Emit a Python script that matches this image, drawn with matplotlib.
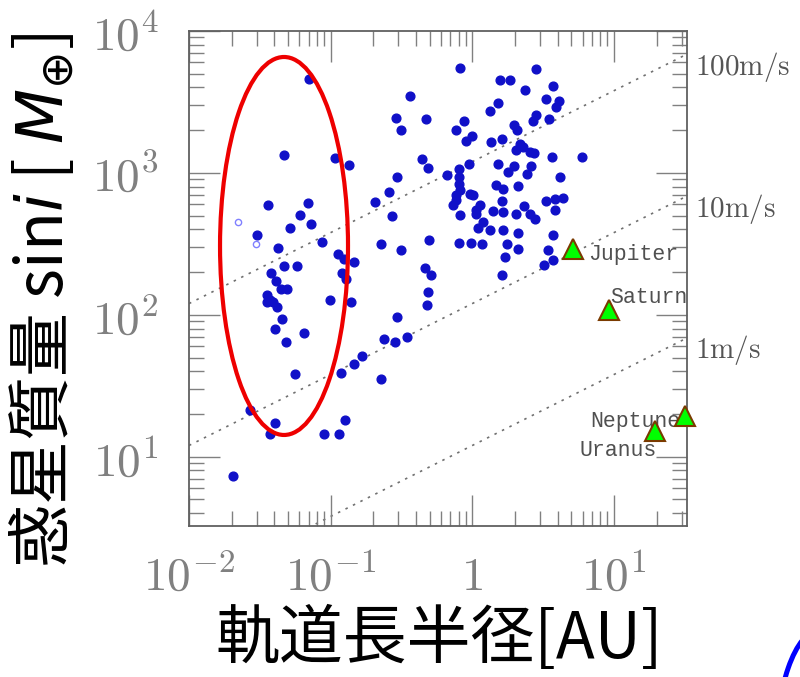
import numpy as np
import matplotlib
matplotlib.use("Agg")
import matplotlib.pyplot as plt
from matplotlib.patches import Ellipse
from matplotlib.ticker import NullFormatter

plt.rcParams['font.family'] = ['Noto Sans CJK JP', 'DejaVu Sans']
plt.rcParams['mathtext.fontset'] = 'cm'

# semi-major axis [AU] and M sin i [Earth masses] of known exoplanets
semi_axis = [0.070, 0.361, 0.288, 0.474, 0.316, 0.0466, 0.107, 0.135, 0.438, 0.488,
             0.295, 0.257, 0.207, 0.273, 0.0363, 0.0691, 0.0604, 0.0731, 0.0513, 0.0301,
             0.0863, 0.0422, 0.2265, 0.316, 0.496, 0.113, 0.124, 0.146, 0.0466, 0.0578,
             0.461, 0.0381, 0.0413, 0.0449, 0.0491, 0.120, 0.129, 0.0355, 0.0375, 0.0355,
             0.0391, 0.0417, 0.0984, 0.140, 0.515, 0.488, 0.480, 0.0453, 0.0402, 0.0647,
             0.0481, 0.294, 0.237, 0.283, 0.348, 0.1675, 0.146, 0.118, 0.0557, 0.225,
             0.0271, 0.0406, 0.0375, 0.126, 0.0892, 0.114, 0.0206,
             0.825, 2.84, 1.565, 1.84, 3.72, 2.35, 3.31, 4.10, 3.89, 1.52,
             1.33, 0.875, 2.84, 2.69, 3.49, 0.773, 1.97, 2.07, 1.00, 0.91,
             1.35, 1.63, 2.17, 2.29, 2.05, 2.55, 2.73, 3.63, 5.91, 0.948,
             1.52, 0.807, 1.97, 2.59, 1.79, 0.807, 0.658, 2.44, 4.15, 0.807,
             1.48, 1.65, 2.09, 0.825, 0.96, 0.773, 1.01, 0.764, 1.63, 3.31,
             3.83, 4.34, 0.731, 1.13, 2.31, 1.06, 1.39, 1.65, 2.05, 2.55,
             3.83, 0.816, 1.07, 2.77, 1.19, 1.10, 1.33, 1.65, 2.11, 0.807,
             0.987, 1.18, 1.76, 3.69, 2.09, 1.70, 3.43, 3.72, 3.20, 1.61]
mass = [4620, 3480, 2455, 2390, 2020, 1333, 1282, 1132, 1256, 1084,
        929, 735, 620, 498, 593, 609, 509, 440, 412, 368,
        327, 296, 315, 286, 336, 269, 249, 234, 220, 220,
        214, 198, 173, 153, 152, 196, 180, 139, 128, 124,
        124, 114, 127, 124, 190, 145, 118, 93, 79, 74,
        64, 95.9, 67.5, 64, 70, 51.4, 44.8, 39.1, 38.2, 35.1,
        21.3, 17.2, 14.4, 18.1, 14.4, 14.4, 7.3,
        5520, 5370, 4480, 4480, 4080, 3820, 3300, 3210, 2920, 3130,
        2735, 2310, 2550, 2310, 2390, 2020, 2170, 2020, 1810, 1670,
        1650, 1720, 1610, 1525, 1445, 1407, 1371, 1297, 1297, 1151,
        1164, 1074, 1114, 1114, 1016, 938, 964, 979, 938, 841,
        818, 776, 809, 755, 716, 697, 697, 643, 635, 635,
        653, 671, 593, 593, 583, 546, 537, 531, 512, 512,
        546, 504, 512, 477, 452, 406, 395, 395, 378, 321,
        321, 318, 318, 364, 290, 256, 286, 245, 224, 190]

# two odd objects drawn open
odd_axis = [0.0221, 0.0299]
odd_mass = [452, 318]

# solar system planets
planet_names = ['Jupiter', 'Saturn', 'Uranus', 'Neptune']
planet_axis = [5.1, 9.3, 19.5, 31.8]
planet_mass = [290, 108, 15.1, 19.4]
planet_text_offset = [(11, -3.6), (0.5, 9.4), (-54.5, -13.5), (-68.4, -4.2)]

# radial velocity amplitude lines
rv_amps = [100, 10, 1]
rv_labels = ['100m/s', '10m/s', '1m/s']
rv_mass_at_1au = 12.0   # M sin i for K = 1 m/s at 1 AU

xmin, xmax = 0.01, 32.8
ymin, ymax = 3.25, 1.0e4

fig = plt.figure(figsize=(8, 6.77), dpi=100)
ax = fig.add_axes([0.23625, 0.22304, 0.6225, 0.73117])
ax.set_xscale('log')
ax.set_yscale('log')
ax.set_xlim(xmin, xmax)
ax.set_ylim(ymin, ymax)

aa = np.logspace(np.log10(xmin), np.log10(xmax), 200)
for k, lab in zip(rv_amps, rv_labels):
    mm = rv_mass_at_1au * k * np.sqrt(aa)
    ax.plot(aa, mm, color='#707070', lw=1.2, ls=(0, (1.5, 3.5)), zorder=1)
    ax.annotate('$\\mathrm{' + lab + '}$', xy=(xmax, mm[-1]), xytext=(6, -9),
                textcoords='offset points', va='center', ha='left',
                fontsize=21, color='#555555', annotation_clip=False)

ax.plot(semi_axis, mass, 'o', ms=6.3, color='#1010c8', mec='#1010c8', zorder=3)
ax.plot(odd_axis, odd_mass, 'o', ms=4.5, mfc='none', mec='#8080ff', mew=1.0, zorder=3)

for name, a, m, off in zip(planet_names, planet_axis, planet_mass, planet_text_offset):
    ax.annotate(name, xy=(a, m), xytext=off, textcoords='offset points',
                va='center', ha='left', fontsize=15.5, color='#505050',
                family='Liberation Mono', annotation_clip=False, zorder=2)
ax.plot(planet_axis, planet_mass, '^', ms=15, color='#00ff00', mec='#7a3a00',
        mew=1.5, zorder=4, clip_on=False)

ax.set_xticks([0.01, 0.1, 1, 10], labels=['$10^{-2}$', '$10^{-1}$', '$1$', '$10^{1}$'])
ax.set_yticks([10, 100, 1000, 10000], labels=['$10^{1}$', '$10^{2}$', '$10^{3}$', '$10^{4}$'])
ax.xaxis.set_minor_formatter(NullFormatter())
ax.yaxis.set_minor_formatter(NullFormatter())
ax.tick_params(which='both', direction='in', top=True, right=True,
               colors='#808080', labelsize=34)
ax.tick_params(which='major', length=22, width=1.0)
ax.tick_params(which='minor', length=11, width=1.0)
ax.tick_params(axis='x', pad=19)
ax.tick_params(axis='y', pad=22)
for sp in ax.spines.values():
    sp.set_color('#606060')
    sp.set_linewidth(1.3)

# highlighted hot-planet group
ax.add_patch(Ellipse((0.1908, 0.5657), 0.257, 0.7636, transform=ax.transAxes,
                     fill=False, ec='#ee0000', lw=3, zorder=5, clip_on=False))
fig.add_artist(Ellipse((1.025, -0.1226), 0.1125, 0.384, transform=fig.transFigure,
                       fill=False, ec='#0000ff', lw=3.6))

fig.text(0.549, 0.0547, '軌道長半径[AU]', fontsize=46, ha='center', va='center')
fig.text(0.054, 0.557, '惑星質量 sin$i$ [ $M_{\\oplus}$]', fontsize=46, rotation=90,
         ha='center', va='center', math_fontfamily='dejavusans')

plt.savefig('out.png', dpi=100)
plt.close()
